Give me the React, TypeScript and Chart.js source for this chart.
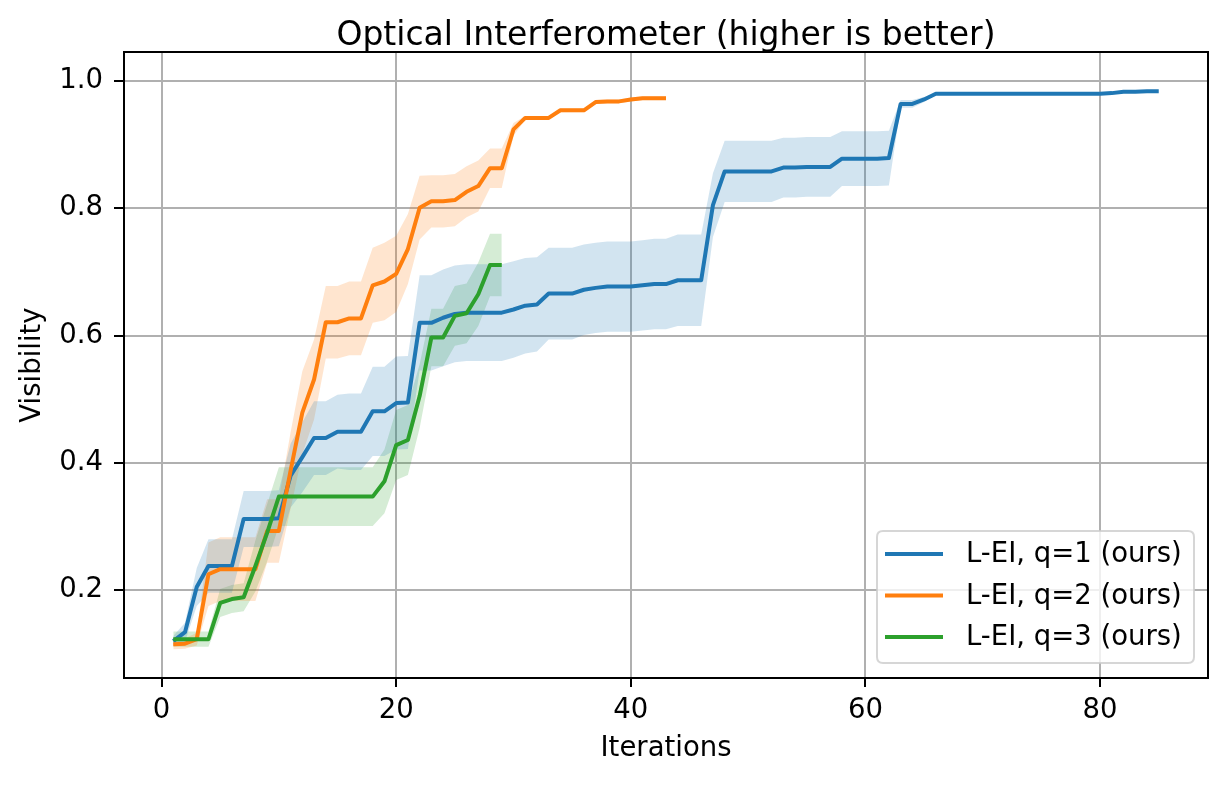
import React, { useEffect, useRef } from 'react';
import { Chart, registerables } from 'chart.js';

Chart.register(...registerables);

const chartTitle = 'Optical Interferometer (higher is better)';
const xAxisLabel = 'Iterations';
const yAxisLabel = 'Visibility';
const seriesNames = ['L-EI, q=1 (ours)', 'L-EI, q=2 (ours)', 'L-EI, q=3 (ours)'];
const seriesColors = ['#1f77b4', '#ff7f0e', '#2ca02c'];
const seriesFills = ['rgba(31,119,180,0.2)', 'rgba(255,127,14,0.2)', 'rgba(44,160,44,0.2)'];
const xTicks = [0, 20, 40, 60, 80];
const yTicks = [0.2, 0.4, 0.6, 0.8, 1.0];

// q=1 : iterations 1..85
const q1Mean = [
  0.120, 0.134, 0.205, 0.238, 0.238, 0.238, 0.312, 0.312, 0.312, 0.313,
  0.380, 0.409, 0.439, 0.439, 0.449, 0.449, 0.449, 0.481, 0.481, 0.494,
  0.495, 0.620, 0.620, 0.628, 0.634, 0.636, 0.636, 0.636, 0.636, 0.641,
  0.647, 0.649, 0.666, 0.666, 0.666, 0.672, 0.675, 0.677, 0.677, 0.677,
  0.679, 0.681, 0.681, 0.687, 0.687, 0.687, 0.805, 0.858, 0.858, 0.858,
  0.858, 0.858, 0.864, 0.864, 0.865, 0.865, 0.865, 0.878, 0.878, 0.878,
  0.878, 0.879, 0.964, 0.964, 0.971, 0.980, 0.980, 0.980, 0.980, 0.980,
  0.980, 0.980, 0.980, 0.980, 0.980, 0.980, 0.980, 0.980, 0.980, 0.980,
  0.981, 0.983, 0.983, 0.984, 0.984,
];
const q1Std = [
  0.008, 0.015, 0.030, 0.042, 0.042, 0.042, 0.044, 0.044, 0.044, 0.044,
  0.050, 0.055, 0.058, 0.058, 0.058, 0.060, 0.060, 0.070, 0.070, 0.073,
  0.073, 0.075, 0.075, 0.076, 0.076, 0.076, 0.076, 0.076, 0.076, 0.076,
  0.075, 0.074, 0.072, 0.072, 0.072, 0.071, 0.071, 0.071, 0.071, 0.071,
  0.071, 0.071, 0.071, 0.072, 0.072, 0.072, 0.050, 0.048, 0.048, 0.048,
  0.048, 0.048, 0.047, 0.047, 0.047, 0.047, 0.047, 0.043, 0.043, 0.043,
  0.043, 0.043, 0.006, 0.006, 0.004, 0.001, 0.001, 0.001, 0.001, 0.001,
  0.001, 0.001, 0.001, 0.001, 0.001, 0.001, 0.001, 0.001, 0.001, 0.001,
  0.001, 0.001, 0.001, 0.001, 0.001,
];

// q=2 : iterations 1..43
const q2Mean = [
  0.115, 0.116, 0.123, 0.225, 0.233, 0.233, 0.233, 0.233, 0.293, 0.293,
  0.388, 0.479, 0.531, 0.621, 0.621, 0.627, 0.627, 0.679, 0.685, 0.697,
  0.736, 0.801, 0.811, 0.811, 0.813, 0.826, 0.835, 0.863, 0.863, 0.924,
  0.942, 0.942, 0.942, 0.954, 0.954, 0.954, 0.967, 0.968, 0.968, 0.971,
  0.973, 0.973, 0.973,
];
const q2Std = [
  0.008, 0.008, 0.010, 0.050, 0.050, 0.050, 0.050, 0.050, 0.050, 0.050,
  0.060, 0.065, 0.063, 0.057, 0.057, 0.058, 0.058, 0.059, 0.061, 0.060,
  0.055, 0.050, 0.041, 0.041, 0.041, 0.040, 0.040, 0.031, 0.031, 0.010,
  0.003, 0.003, 0.003, 0.003, 0.003, 0.003, 0.003, 0.003, 0.003, 0.003,
  0.003, 0.003, 0.003,
];

// q=3 : iterations 1..29
const q3Mean = [
  0.123, 0.123, 0.123, 0.123, 0.180, 0.186, 0.189, 0.238, 0.290, 0.347,
  0.347, 0.347, 0.347, 0.347, 0.347, 0.347, 0.347, 0.347, 0.371, 0.428,
  0.436, 0.505, 0.597, 0.597, 0.631, 0.635, 0.665, 0.711, 0.711,
];
const q3Std = [
  0.012, 0.012, 0.012, 0.012, 0.022, 0.022, 0.022, 0.040, 0.045, 0.046,
  0.046, 0.046, 0.046, 0.046, 0.046, 0.046, 0.046, 0.046, 0.050, 0.055,
  0.055, 0.050, 0.045, 0.045, 0.047, 0.047, 0.050, 0.049, 0.049,
];

const FONT = '"DejaVu Sans", "Liberation Sans", sans-serif';
const W = 1227;
const H = 785;

function pts(vals: number[]) {
  return vals.map((v, i) => ({ x: i + 1, y: v }));
}

const decorPlugin = {
  id: 'decor',
  afterDraw(chart: any) {
    const { ctx, chartArea } = chart;
    ctx.save();
    // axes frame
    ctx.strokeStyle = '#000';
    ctx.lineWidth = 2;
    ctx.strokeRect(chartArea.left, chartArea.top, chartArea.right - chartArea.left, chartArea.bottom - chartArea.top);
    // title
    ctx.fillStyle = '#000';
    ctx.font = `33px ${FONT}`;
    ctx.textAlign = 'center';
    ctx.textBaseline = 'alphabetic';
    ctx.fillText(chartTitle, (chartArea.left + chartArea.right) / 2, 45);
    // legend
    const bx = 877, by = 531, bw = 317, bh = 132, r = 6;
    ctx.beginPath();
    ctx.moveTo(bx + r, by);
    ctx.lineTo(bx + bw - r, by);
    ctx.quadraticCurveTo(bx + bw, by, bx + bw, by + r);
    ctx.lineTo(bx + bw, by + bh - r);
    ctx.quadraticCurveTo(bx + bw, by + bh, bx + bw - r, by + bh);
    ctx.lineTo(bx + r, by + bh);
    ctx.quadraticCurveTo(bx, by + bh, bx, by + bh - r);
    ctx.lineTo(bx, by + r);
    ctx.quadraticCurveTo(bx, by, bx + r, by);
    ctx.closePath();
    ctx.fillStyle = 'rgba(255,255,255,0.8)';
    ctx.fill();
    ctx.strokeStyle = 'rgba(204,204,204,0.8)';
    ctx.lineWidth = 2;
    ctx.stroke();
    const rows = [554, 595.5, 637];
    ctx.font = `27.5px ${FONT}`;
    ctx.textAlign = 'left';
    ctx.textBaseline = 'middle';
    seriesNames.forEach((name, i) => {
      ctx.strokeStyle = seriesColors[i];
      ctx.lineWidth = 4;
      ctx.beginPath();
      ctx.moveTo(885, rows[i]);
      ctx.lineTo(943, rows[i]);
      ctx.stroke();
      ctx.fillStyle = '#000';
      ctx.fillText(name, 966, rows[i] + 1);
    });
    ctx.restore();
  },
};

export default function App() {
  const canvasRef = useRef<HTMLCanvasElement | null>(null);

  useEffect(() => {
    const canvas = canvasRef.current;
    if (!canvas) return;
    const means = [q1Mean, q2Mean, q3Mean];
    const stds = [q1Std, q2Std, q3Std];
    const datasets: any[] = [];
    means.forEach((m, s) => {
      const sd = stds[s];
      datasets.push({
        label: seriesNames[s] + ' lower',
        data: pts(m.map((v, i) => v - sd[i])),
        borderWidth: 0,
        borderColor: 'rgba(0,0,0,0)',
        pointRadius: 0,
        fill: false,
        order: 10 + s,
      });
      datasets.push({
        label: seriesNames[s] + ' upper',
        data: pts(m.map((v, i) => v + sd[i])),
        borderWidth: 0,
        borderColor: 'rgba(0,0,0,0)',
        backgroundColor: seriesFills[s],
        pointRadius: 0,
        fill: '-1',
        order: 10 + s,
      });
    });
    means.forEach((m, s) => {
      datasets.push({
        label: seriesNames[s],
        data: pts(m),
        borderColor: seriesColors[s],
        borderWidth: 4,
        pointRadius: 0,
        fill: false,
        tension: 0,
        borderJoinStyle: 'round',
        borderCapStyle: 'butt',
        order: 5 - s,
      });
    });

    const chart = new Chart(canvas, {
      type: 'line',
      data: { datasets },
      options: {
        animation: false,
        responsive: false,
        devicePixelRatio: 1,
        layout: { padding: { left: 0, right: 19, top: 52, bottom: 0 } },
        plugins: {
          legend: { display: false },
          tooltip: { enabled: false },
          title: { display: false },
          filler: { drawTime: 'beforeDatasetsDraw' },
        },
        scales: {
          x: {
            type: 'linear',
            min: -3.2,
            max: 89.2,
            afterBuildTicks: (scale: any) => {
              scale.ticks = xTicks.map((v) => ({ value: v }));
            },
            afterFit: (scale: any) => {
              scale.height = 107;
            },
            grid: {
              color: '#b0b0b0',
              lineWidth: 2,
              tickColor: '#000',
              tickLength: 9,
              tickWidth: 2,
            },
            border: { display: false },
            ticks: {
              color: '#000',
              font: { family: FONT, size: 27.5 },
              padding: 7,
              maxRotation: 0,
              callback: (v: any) => String(v),
            },
            title: {
              display: true,
              text: xAxisLabel,
              color: '#000',
              font: { family: FONT, size: 27.5 },
              padding: { top: 0, bottom: 20 },
            },
          },
          y: {
            type: 'linear',
            min: 0.062,
            max: 1.0456,
            afterBuildTicks: (scale: any) => {
              scale.ticks = yTicks.map((v) => ({ value: v }));
            },
            afterFit: (scale: any) => {
              scale.width = 124;
            },
            grid: {
              color: '#b0b0b0',
              lineWidth: 2,
              tickColor: '#000',
              tickLength: 10,
              tickWidth: 2,
            },
            border: { display: false },
            ticks: {
              color: '#000',
              font: { family: FONT, size: 27.5 },
              padding: 11,
              callback: (v: any) => Number(v).toFixed(1),
            },
            title: {
              display: true,
              text: yAxisLabel,
              color: '#000',
              font: { family: FONT, size: 27.5 },
              padding: { top: 16, bottom: 0 },
            },
          },
        },
      },
      plugins: [decorPlugin],
    } as any);

    return () => {
      chart.destroy();
    };
  }, []);

  return (
    <div style={{ position: 'fixed', left: 0, top: 0, width: W, height: H, background: '#fff' }}>
      <canvas ref={canvasRef} width={W} height={H} style={{ width: W, height: H, display: 'block' }} />
    </div>
  );
}
